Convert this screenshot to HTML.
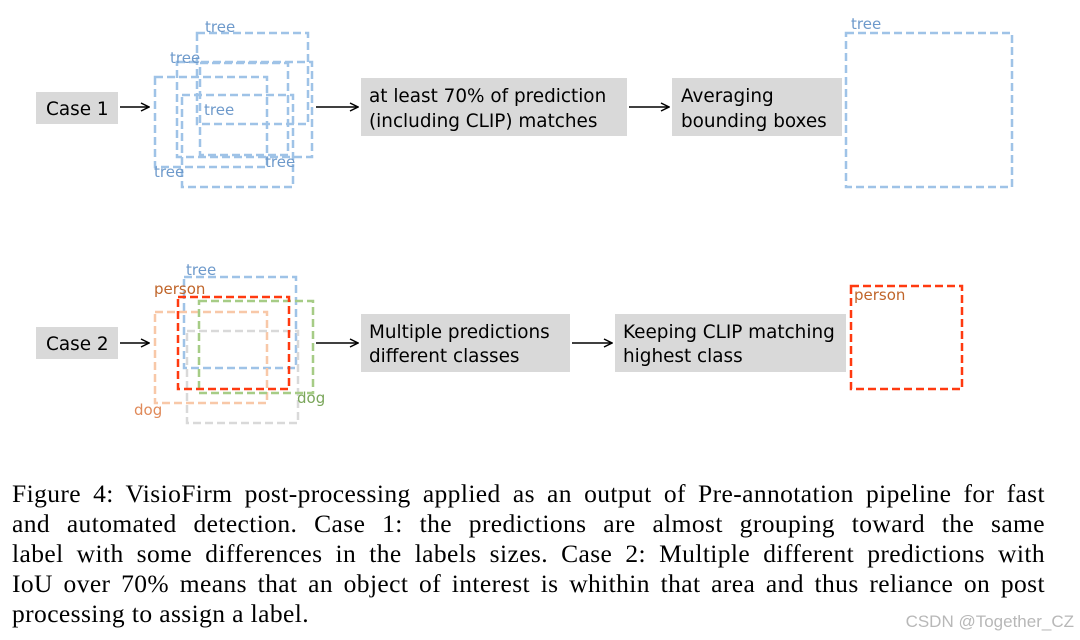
<!DOCTYPE html>
<html><head><meta charset="utf-8"><style>
body{margin:0;width:1080px;height:640px;background:#fff;overflow:hidden;position:relative}
svg{position:absolute;left:0;top:0}
.cap{position:absolute;left:12px;top:479px;width:1033px;font-family:"Liberation Serif",serif;font-size:25.5px;letter-spacing:0.4px;line-height:30px;color:#000}
.cap div{text-align:justify;text-align-last:justify;white-space:nowrap}
.cap div.l{text-align-last:left}
.wm{position:absolute;right:6px;top:612px;font-family:"Liberation Sans",sans-serif;font-size:17px;color:#b8b8b8}
</style></head><body>
<svg width="1080" height="640" font-family="DejaVu Sans, sans-serif">
<defs><marker id="a" markerWidth="10" markerHeight="10" refX="9" refY="5" orient="auto" markerUnits="userSpaceOnUse"><path d="M1,1 L9,5 L1,9" fill="none" stroke="#000" stroke-width="1.5"/></marker></defs>
<g fill="#d9d9d9">
<rect x="36" y="92" width="82" height="32"/><rect x="361" y="78" width="266" height="58"/><rect x="672" y="78" width="170" height="58"/>
<rect x="36" y="327" width="82" height="32"/><rect x="361" y="314" width="209" height="58"/><rect x="615" y="314" width="231" height="58"/>
</g>
<g font-size="18.4" fill="#000">
<text x="46" y="115">Case 1</text>
<text x="369" y="102">at least 70% of prediction</text><text x="369" y="127">(including CLIP) matches</text>
<text x="681" y="102">Averaging</text><text x="681" y="127">bounding boxes</text>
<text x="46" y="350">Case 2</text>
<text x="369" y="338">Multiple predictions</text><text x="369" y="362">different classes</text>
<text x="623" y="338">Keeping CLIP matching</text><text x="623" y="362">highest class</text>
</g>
<g stroke="#000" stroke-width="1.5" marker-end="url(#a)">
<line x1="120" y1="107" x2="149" y2="107"/><line x1="316" y1="107" x2="358" y2="107"/><line x1="629" y1="107" x2="669" y2="107"/>
<line x1="120" y1="343" x2="149" y2="343"/><line x1="316" y1="343" x2="358" y2="343"/><line x1="572" y1="343" x2="612" y2="343"/>
</g>
<g fill="none" stroke="#9fc3e7" stroke-width="2.5" stroke-dasharray="8,4">
<rect x="197" y="33" width="111" height="91"/><rect x="177" y="62" width="135" height="95"/><rect x="155" y="77" width="112" height="90"/>
<rect x="182" y="95" width="111" height="92"/><rect x="200" y="63" width="88" height="92"/>
<rect x="846" y="33" width="166" height="154"/>
</g>
<g font-size="15" fill="#6e9acb">
<text x="205" y="32">tree</text><text x="170" y="63">tree</text><text x="204" y="115">tree</text><text x="265" y="167">tree</text><text x="154" y="177">tree</text><text x="851" y="29">tree</text>
</g>
<g fill="none" stroke-width="2.5" stroke-dasharray="8,4">
<rect x="184" y="277" width="112" height="91" stroke="#9fc3e7"/>
<rect x="155" y="312" width="112" height="91" stroke="#f8c8a8"/>
<rect x="187" y="331" width="111" height="92" stroke="#d9d9d9"/>
<rect x="199" y="301" width="114" height="92" stroke="#a6cc86"/>
<rect x="178" y="297" width="111" height="92" stroke="#ff3a10"/>
<rect x="851" y="286" width="111" height="103" stroke="#ff3a10"/>
</g>
<g font-size="15">
<text x="186" y="275" fill="#6e9acb">tree</text><text x="154" y="294" fill="#c0652a">person</text>
<text x="134" y="415" fill="#e08a5a">dog</text><text x="297" y="403" fill="#7aa65a">dog</text>
<text x="854" y="300" fill="#c0652a">person</text>
</g>
</svg>
<div class="cap">
<div>Figure 4: VisioFirm post-processing applied as an output of Pre-annotation pipeline for fast</div>
<div>and automated detection. Case 1: the predictions are almost grouping toward the same</div>
<div>label with some differences in the labels sizes. Case 2: Multiple different predictions with</div>
<div>IoU over 70% means that an object of interest is whithin that area and thus reliance on post</div>
<div class="l">processing to assign a label.</div>
</div>
<div class="wm">CSDN @Together_CZ</div>
</body></html>
